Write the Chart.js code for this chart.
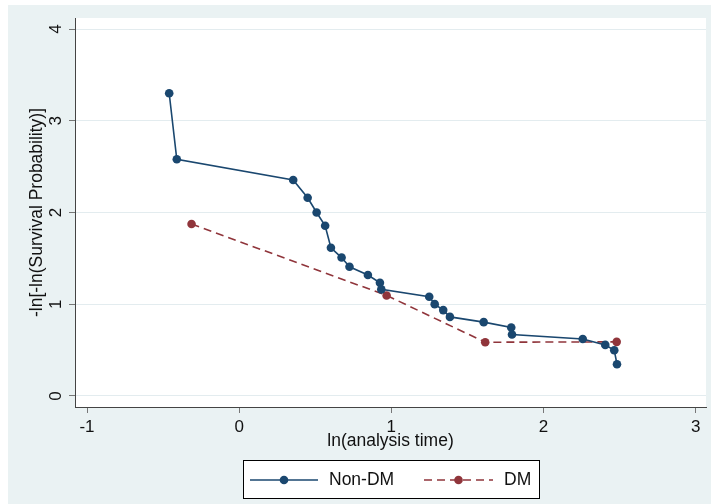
<!DOCTYPE html>
<html>
<head>
<meta charset="utf-8">
<script src="https://cdn.jsdelivr.net/npm/chart.js@4.4.1/dist/chart.umd.min.js"></script>
<style>
  html, body { margin: 0; padding: 0; background: #ffffff; }
  #wrap { width: 711px; height: 504px; }
</style>
</head>
<body>
<div id="wrap"><canvas id="chart" width="711" height="504"></canvas></div>
<script>
// ln(analysis time) vs -ln[-ln(S)]
const nonDmX = [-0.460, -0.410, 0.355, 0.450, 0.509, 0.565, 0.603, 0.673, 0.725, 0.846, 0.925, 0.934,
                1.249, 1.285, 1.341, 1.385, 1.607, 1.788, 1.793, 2.258, 2.406, 2.465, 2.483];
const nonDmY = [3.30, 2.58, 2.355, 2.16, 2.00, 1.856, 1.616, 1.509, 1.408, 1.318, 1.234, 1.162,
                1.081, 1.001, 0.936, 0.862, 0.805, 0.747, 0.670, 0.622, 0.557, 0.499, 0.346];
const dmX = [-0.313, 0.969, 1.617, 2.481];
const dmY = [1.874, 1.096, 0.586, 0.590];

const xTicks = [-1, 0, 1, 2, 3];
const yTicks = [0, 1, 2, 3, 4];

const seriesNames = ['Non-DM', 'DM'];
const NAVY = '#1a476f';
const MAROON = '#90353b';
const BG = '#eaf2f3';
const FONT = "'Liberation Sans', Arial, sans-serif";

function toPoints(xs, ys) {
    return xs.map((x, i) => ({ x: x, y: ys[i] }));
}

// backgrounds: outer graph region + white plot region
const backgroundPlugin = {
    id: 'backgroundPlugin',
    beforeDraw(chart) {
        const ctx = chart.ctx;
        const a = chart.chartArea;
        ctx.save();
        ctx.fillStyle = '#ffffff';
        ctx.fillRect(0, 0, chart.width, chart.height);
        ctx.fillStyle = BG;
        ctx.fillRect(8, 5, chart.width - 8, chart.height - 5);
        ctx.fillStyle = '#ffffff';
        ctx.fillRect(a.left, a.top, a.right - a.left, a.bottom - a.top);
        ctx.restore();
    }
};

// y tick labels are rotated like Stata's
const yLabelPlugin = {
    id: 'yLabelPlugin',
    afterDraw(chart) {
        const ctx = chart.ctx;
        const y = chart.scales.y;
        ctx.save();
        ctx.font = '17px ' + FONT;
        ctx.fillStyle = '#111';
        ctx.textAlign = 'center';
        ctx.textBaseline = 'middle';
        y.ticks.forEach(t => {
            const py = y.getPixelForValue(t.value);
            ctx.save();
            ctx.translate(56, py);
            ctx.rotate(-Math.PI / 2);
            ctx.fillText(String(t.value), 0, 0);
            ctx.restore();
        });
        ctx.restore();
    }
};

// legend box at the bottom
const legendPlugin = {
    id: 'legendPlugin',
    afterDraw(chart) {
        const ctx = chart.ctx;
        const box = { x: 243, y: 460, w: 296, h: 38 };
        const cy = box.y + box.h / 2 + 1;
        ctx.save();
        ctx.fillStyle = '#ffffff';
        ctx.fillRect(box.x, box.y, box.w, box.h);
        ctx.strokeStyle = '#000';
        ctx.lineWidth = 1;
        ctx.strokeRect(box.x + 0.5, box.y + 0.5, box.w, box.h);

        const items = [
            { color: NAVY, dash: [], x0: 250, x1: 318, text: seriesNames[0], tx: 329 },
            { color: MAROON, dash: [8, 5], x0: 424, x1: 493, text: seriesNames[1], tx: 504 }
        ];
        items.forEach(it => {
            ctx.strokeStyle = it.color;
            ctx.lineWidth = 1.5;
            ctx.setLineDash(it.dash);
            ctx.beginPath();
            ctx.moveTo(it.x0, cy);
            ctx.lineTo(it.x1, cy);
            ctx.stroke();
            ctx.setLineDash([]);
            ctx.fillStyle = it.color;
            ctx.beginPath();
            ctx.arc((it.x0 + it.x1) / 2, cy, 4.3, 0, Math.PI * 2);
            ctx.fill();
            ctx.fillStyle = '#111';
            ctx.font = '17.5px ' + FONT;
            ctx.textAlign = 'left';
            ctx.textBaseline = 'middle';
            ctx.fillText(it.text, it.tx, cy);
        });
        ctx.restore();
    }
};

new Chart(document.getElementById('chart'), {
    type: 'scatter',
    data: {
        datasets: [{
            label: seriesNames[0],
            data: toPoints(nonDmX, nonDmY),
            showLine: true,
            borderColor: NAVY,
            backgroundColor: NAVY,
            borderWidth: 1.6,
            pointRadius: 4.3,
            pointBorderWidth: 0,
            tension: 0
        }, {
            label: seriesNames[1],
            data: toPoints(dmX, dmY),
            showLine: true,
            borderColor: MAROON,
            backgroundColor: MAROON,
            borderWidth: 1.6,
            borderDash: [8, 5],
            pointRadius: 4.3,
            pointBorderWidth: 0,
            tension: 0
        }]
    },
    options: {
        responsive: false,
        animation: false,
        devicePixelRatio: 1,
        layout: { padding: { top: 18, right: 5, left: 0, bottom: 0 } },
        plugins: {
            legend: { display: false },
            tooltip: { enabled: false }
        },
        scales: {
            x: {
                type: 'linear',
                min: -1.079,
                max: 3.068,
                afterBuildTicks: (s) => { s.ticks = xTicks.map(v => ({ value: v })); },
                afterFit: (s) => { s.height = 97; },
                border: { display: true, color: '#444', width: 1 },
                grid: { drawOnChartArea: false, drawTicks: true, tickLength: 6, tickColor: '#777' },
                ticks: {
                    padding: 4,
                    color: '#111',
                    font: { family: FONT, size: 17 },
                    maxRotation: 0,
                    callback: (v) => String(v)
                },
                title: {
                    display: true,
                    text: 'ln(analysis time)',
                    color: '#111',
                    font: { family: FONT, size: 17.5 },
                    padding: { top: 0, bottom: 52 }
                }
            },
            y: {
                type: 'linear',
                min: -0.12,
                max: 4.12,
                afterBuildTicks: (s) => { s.ticks = yTicks.map(v => ({ value: v })); },
                afterFit: (s) => { s.width = 75; },
                border: { display: true, color: '#444', width: 1 },
                grid: { color: '#e3ecef', lineWidth: 1, drawTicks: true, tickLength: 6, tickColor: '#777' },
                ticks: {
                    color: 'rgba(0,0,0,0)',
                    font: { family: FONT, size: 17 }
                },
                title: {
                    display: true,
                    text: '-ln[-ln(Survival Probability)]',
                    color: '#111',
                    font: { family: FONT, size: 17.5 },
                    padding: { top: 27, bottom: 0 }
                }
            }
        }
    },
    plugins: [backgroundPlugin, yLabelPlugin, legendPlugin]
});
</script>
</body>
</html>
